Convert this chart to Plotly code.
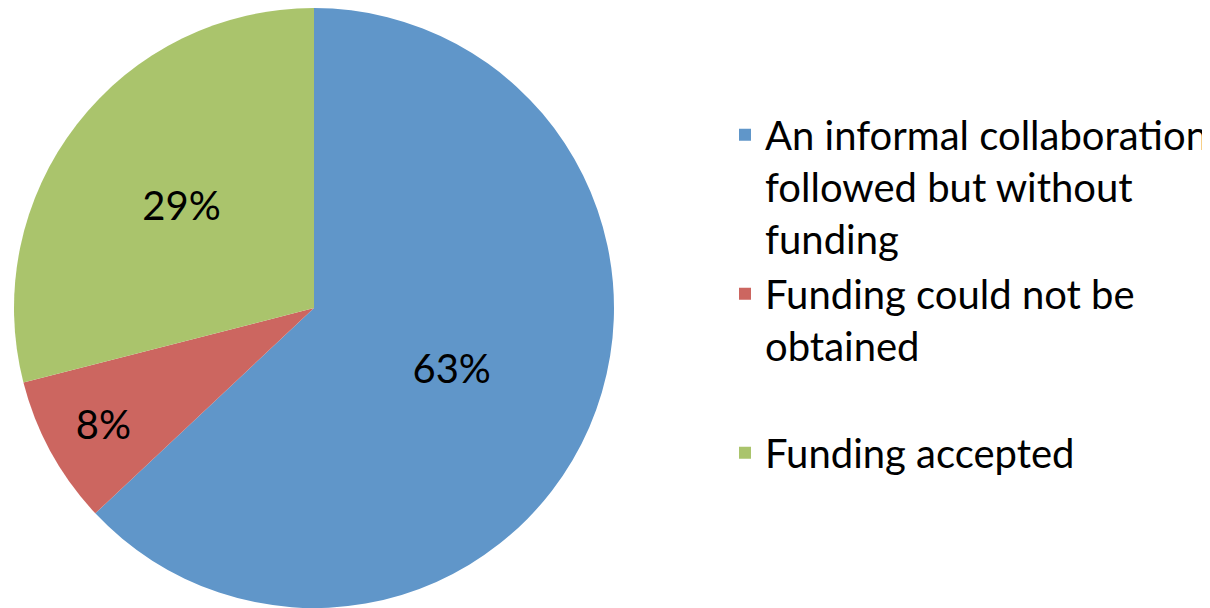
import plotly.graph_objects as go

labels = ["An informal collaboration<br>followed but without<br>funding",
          "Funding could not be<br>obtained<br> ",
          "Funding accepted"]
values = [63, 8, 29]
colors = ["#6096C9", "#CC6660", "#AAC46C"]

fig = go.Figure(go.Pie(
    labels=labels, values=values, sort=False, direction="clockwise", rotation=0,
    marker=dict(colors=colors, line=dict(width=0)),
    textinfo="percent", texttemplate="%{percent:.0%}",
    textposition="inside", insidetextorientation="horizontal",
    textfont=dict(family="Lato", size=40, color="black"),
    domain=dict(x=[5/1210, 607/1210], y=[8/608, 1]),
    hoverinfo="label+percent",
))
fig.update_layout(
    width=1210, height=608,
    margin=dict(l=0, r=0, t=0, b=0),
    paper_bgcolor="white",
    font=dict(family="Lato", size=40, color="black"),
    legend=dict(x=717/1210, xanchor="left", y=0.53, yanchor="middle",
                valign="top",
                font=dict(family="Lato", size=40, color="black"),
                itemwidth=30, tracegroupgap=0),
    showlegend=True,
)
fig.write_html("out.html")
